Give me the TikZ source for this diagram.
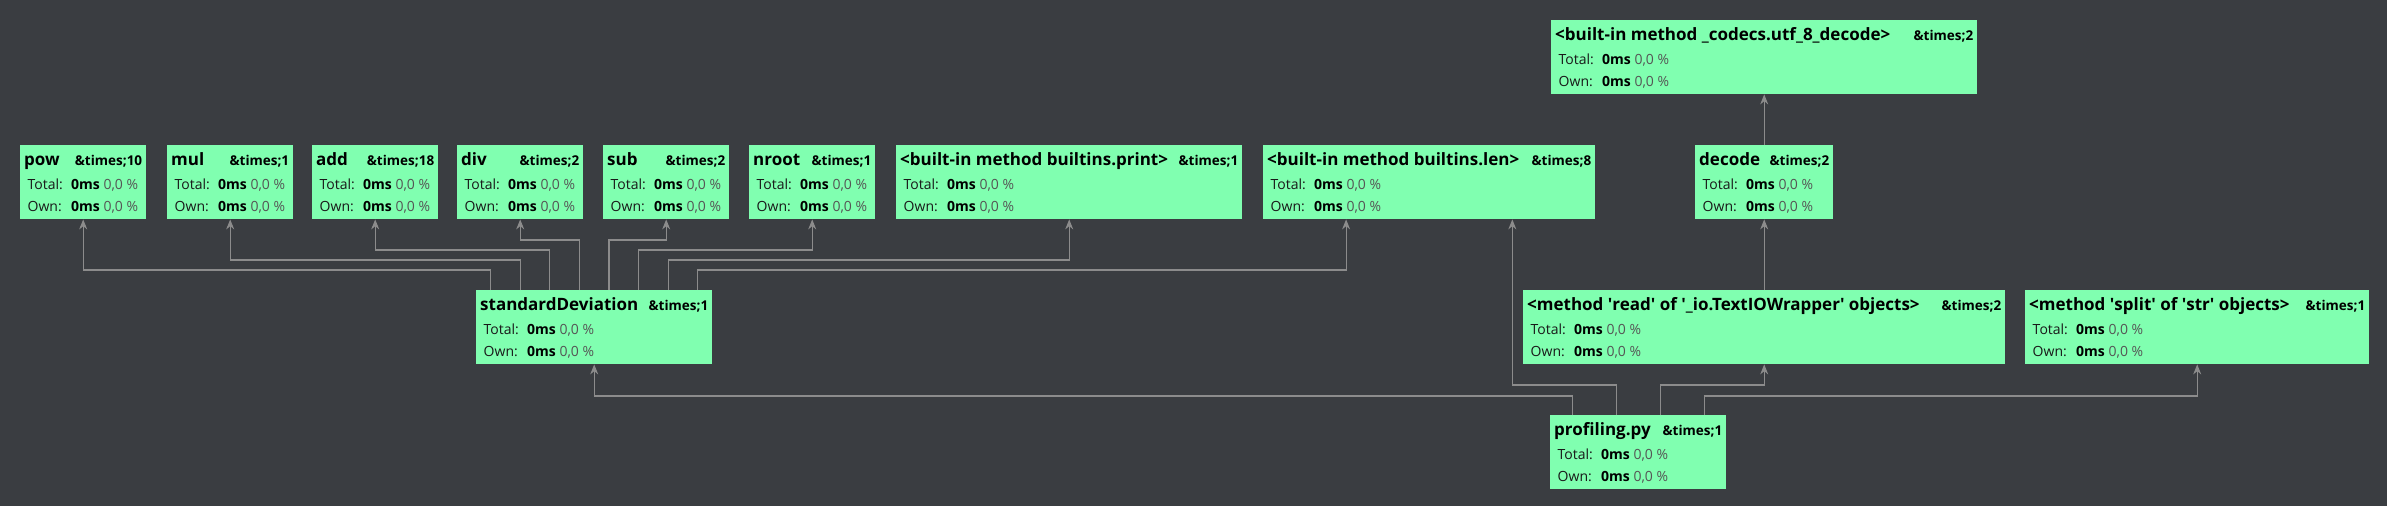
\documentclass[tikz,border=0pt]{standalone}
\usepackage{fontspec}
\setmainfont{Open Sans}
\usetikzlibrary{arrows.meta,calc}
\definecolor{bg}{RGB}{58,61,65}
\definecolor{boxgreen}{RGB}{128,255,176}
\definecolor{edgegray}{RGB}{140,140,140}
\definecolor{pct}{RGB}{85,85,85}
\definecolor{txt}{RGB}{25,25,25}
\tikzset{
  pbox/.style={rectangle, fill=boxgreen, draw=none, minimum height=74pt, inner sep=0pt},
  ptitle/.style={anchor=base west, inner sep=0pt, font=\bfseries\fontsize{17}{20}\selectfont, text=black},
  pcount/.style={anchor=base east, inner sep=0pt, font=\bfseries\fontsize{13.5}{16}\selectfont, text=black},
  plabel/.style={anchor=base west, inner sep=0pt, font=\fontsize{14}{17}\selectfont, text=txt},
  pval/.style={anchor=base west, inner sep=0pt, font=\fontsize{14}{17}\selectfont, text=black},
  edge/.style={draw=edgegray, line width=1.1pt, -{Stealth[length=10pt,width=8pt]}},
}
\newcommand\pbox[6]{%
  \node[pbox, minimum width=#4pt, anchor=north west] (#1) at (#2,#3) {};
  \node[ptitle] (#1-t) at ([xshift=4pt,yshift=-20pt]#1.north west) {#5};
  \node[pcount] (#1-c) at ([xshift=-4pt,yshift=-20pt]#1.north east) {\&times;#6};
  \node[plabel] (#1-tl) at ([xshift=7.5pt,yshift=-44pt]#1.north west) {Total:};
  \node[pval] (#1-tv) at ([xshift=51pt,yshift=-44pt]#1.north west) {\textbf{0ms} \textcolor{pct}{0,0 \%}};
  \node[plabel] (#1-ol) at ([xshift=7.5pt,yshift=-66pt]#1.north west) {Own:};
  \node[pval] (#1-ov) at ([xshift=51pt,yshift=-66pt]#1.north west) {\textbf{0ms} \textcolor{pct}{0,0 \%}};
}
\begin{document}
\begin{tikzpicture}[x=1pt,y=-1pt]
\fill[bg] (0,0) rectangle (2387,506);
\useasboundingbox (0,0) rectangle (2387,506);
% top box
\pbox{utf}{1551}{20}{426}{<built-in method \_codecs.utf\_8\_decode>}{2}
% first row
\pbox{pow}{20}{145}{126}{pow}{10}
\pbox{mul}{167}{145}{126}{mul}{1}
\pbox{add}{312}{145}{126}{add}{18}
\pbox{div}{457}{145}{126}{div}{2}
\pbox{sub}{603}{145}{126}{sub}{2}
\pbox{nroot}{749}{145}{126}{nroot}{1}
\pbox{print}{896}{145}{346}{<built-in method builtins.print>}{1}
\pbox{len}{1263}{145}{332}{<built-in method builtins.len>}{8}
\pbox{decode}{1695}{145}{138}{decode}{2}
% second row
\pbox{std}{476}{290}{236}{standardDeviation}{1}
\pbox{read}{1523}{290}{482}{<method \textquotesingle read\textquotesingle\ of \textquotesingle\_io.TextIOWrapper\textquotesingle\ objects>}{2}
\pbox{split}{2025}{290}{344}{<method \textquotesingle split\textquotesingle\ of \textquotesingle str\textquotesingle\ objects>}{1}
% bottom
\pbox{prof}{1550}{415}{176}{profiling.py}{1}
% levels
\coordinate (L240) at (0,240);
\coordinate (L250) at (0,250);
\coordinate (L260) at (0,260);
\coordinate (L270) at (0,270);
\coordinate (L385) at (0,385);
\coordinate (L396) at (0,396);
% exit / entry points
\coordinate (so1) at ($(std.north west)!0.0625!(std.north east)$);
\coordinate (so2) at ($(std.north west)!0.1875!(std.north east)$);
\coordinate (so3) at ($(std.north west)!0.3125!(std.north east)$);
\coordinate (so4) at ($(std.north west)!0.4375!(std.north east)$);
\coordinate (so5) at ($(std.north west)!0.5625!(std.north east)$);
\coordinate (so6) at ($(std.north west)!0.6875!(std.north east)$);
\coordinate (so7) at ($(std.north west)!0.8125!(std.north east)$);
\coordinate (so8) at ($(std.north west)!0.9375!(std.north east)$);
\coordinate (li1) at ($(len.south west)!0.25!(len.south east)$);
\coordinate (li2) at ($(len.south west)!0.75!(len.south east)$);
\coordinate (po1) at ($(prof.north west)!0.125!(prof.north east)$);
\coordinate (po2) at ($(prof.north west)!0.375!(prof.north east)$);
\coordinate (po3) at ($(prof.north west)!0.625!(prof.north east)$);
\coordinate (po4) at ($(prof.north west)!0.875!(prof.north east)$);
% edges from standardDeviation
\draw[edge] (so1) -- (so1 |- L270) -- (pow.south |- L270) -- (pow.south);
\draw[edge] (so2) -- (so2 |- L260) -- (mul.south |- L260) -- (mul.south);
\draw[edge] (so3) -- (so3 |- L250) -- (add.south |- L250) -- (add.south);
\draw[edge] (so4) -- (so4 |- L240) -- (div.south |- L240) -- (div.south);
\draw[edge] (so5) -- (so5 |- L240) -- (sub.south |- L240) -- (sub.south);
\draw[edge] (so6) -- (so6 |- L250) -- (nroot.south |- L250) -- (nroot.south);
\draw[edge] (so7) -- (so7 |- L260) -- (print.south |- L260) -- (print.south);
\draw[edge] (so8) -- (so8 |- L270) -- (li1 |- L270) -- (li1);
% edges from profiling.py
\draw[edge] (po1) -- (po1 |- L396) -- (std.south |- L396) -- (std.south);
\draw[edge] (po2) -- (po2 |- L385) -- (li2 |- L385) -- (li2);
\draw[edge] (po3) -- (po3 |- L385) -- (read.south |- L385) -- (read.south);
\draw[edge] (po4) -- (po4 |- L396) -- (split.south |- L396) -- (split.south);
% other edges
\draw[edge] (read.north) -- (decode.south);
\draw[edge] (decode.north) -- (utf.south);
\end{tikzpicture}
\end{document}
